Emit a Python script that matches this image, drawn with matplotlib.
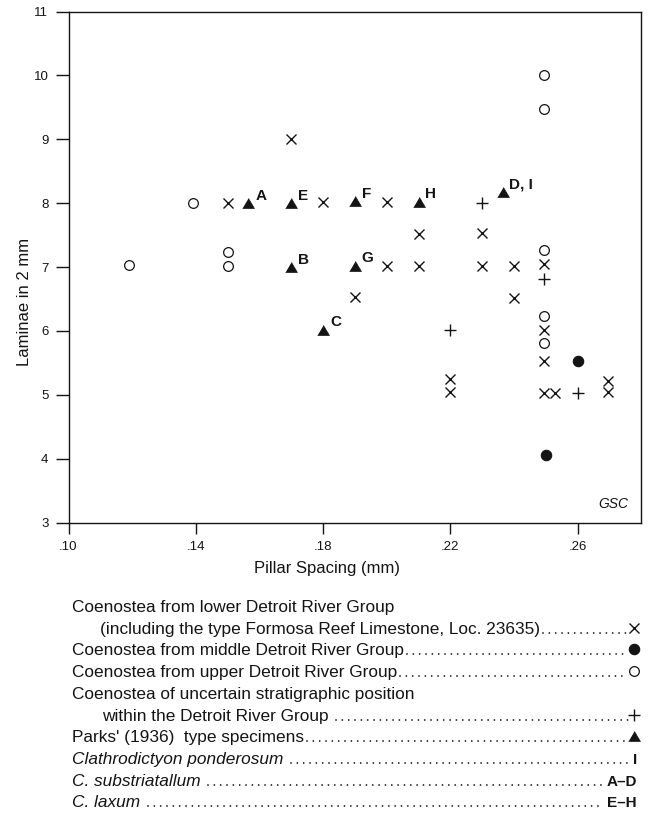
import matplotlib
matplotlib.use("Agg")
import matplotlib.pyplot as plt

plt.rcParams["font.family"] = ["Liberation Sans", "DejaVu Sans"]

# Pillar spacing (mm) against laminae in 2 mm, one list pair per group
lower_x = [0.150, 0.170, 0.180, 0.200, 0.210, 0.230, 0.200, 0.210, 0.230, 0.240,
           0.2495, 0.190, 0.240, 0.2495, 0.2495, 0.220, 0.220, 0.2495, 0.2528,
           0.2695, 0.2695]
lower_y = [8.00, 9.00, 8.02, 8.01, 7.52, 7.53, 7.02, 7.02, 7.02, 7.02,
           7.04, 6.53, 6.52, 6.02, 5.53, 5.24, 5.05, 5.03, 5.03,
           5.22, 5.04]

middle_x = [0.260, 0.250]
middle_y = [5.53, 4.05]

upper_x = [0.119, 0.139, 0.150, 0.150, 0.2495, 0.2495, 0.2495, 0.2495, 0.2495]
upper_y = [7.03, 8.00, 7.24, 7.02, 10.01, 9.48, 7.26, 6.23, 5.81]

uncertain_x = [0.230, 0.2495, 0.220, 0.260]
uncertain_y = [8.00, 6.81, 6.02, 5.03]

# Parks' (1936) type specimens
type_labels = ["A", "B", "C", "D, I", "E", "F", "G", "H"]
type_x = [0.1565, 0.170, 0.180, 0.2364, 0.170, 0.190, 0.190, 0.210]
type_y = [8.00, 7.00, 6.02, 8.17, 8.00, 8.03, 7.02, 8.02]

x_ticks = [0.10, 0.14, 0.18, 0.22, 0.26]
x_tick_labels = [".10", ".14", ".18", ".22", ".26"]
y_ticks = [3, 4, 5, 6, 7, 8, 9, 10, 11]

ink = "#141414"
triangle = [(-1, -0.85), (1, -0.85), (0, 0.85)]
styles = {
    "lower": dict(marker="x", ms=7.5, mew=1.0, color=ink),
    "middle": dict(marker="o", ms=7.5, mew=0.8, color=ink),
    "upper": dict(marker="o", ms=7, mew=0.9, mfc="white", mec=ink),
    "uncertain": dict(marker="+", ms=9, mew=1.0, color=ink),
    "type": dict(marker=triangle, ms=8.5, mew=0.5, color=ink),
}

W, H = 649, 817
fig = plt.figure(figsize=(W / 100, H / 100), dpi=100)


def px_box(left, top, right, bottom):
    return [left / W, 1 - bottom / H, (right - left) / W, (bottom - top) / H]


ax = fig.add_axes(px_box(68.5, 11.5, 641.3, 522.5))
ax.plot(lower_x, lower_y, ls="none", **styles["lower"])
ax.plot(middle_x, middle_y, ls="none", **styles["middle"])
ax.plot(upper_x, upper_y, ls="none", **styles["upper"])
ax.plot(uncertain_x, uncertain_y, ls="none", **styles["uncertain"])
ax.plot(type_x, type_y, ls="none", **styles["type"])

for lab, x, y in zip(type_labels, type_x, type_y):
    ax.annotate(lab, (x, y), xytext=(5, 2.5), textcoords="offset points",
                ha="left", va="baseline", fontsize=11, fontweight="bold", color=ink)

ax.set_xlim(0.10, 0.28)
ax.set_ylim(3, 11)
ax.set_xticks(x_ticks)
ax.set_xticklabels(x_tick_labels)
ax.set_yticks(y_ticks)
ax.tick_params(axis="x", direction="out", length=8, width=1, pad=5,
               labelsize=9.5, colors=ink)
ax.tick_params(axis="y", direction="out", length=9.5, width=1, pad=5,
               labelsize=9.5, colors=ink)
for sp in ax.spines.values():
    sp.set_linewidth(1.0)
    sp.set_color(ink)

ax.set_xlabel("Pillar Spacing (mm)", fontsize=12, color=ink)
ax.xaxis.label.set_va("center")
ax.xaxis.set_label_coords((327.5 - 68.5) / 572.8, -(569 - 522.5) / 511)
ax.set_ylabel("Laminae in 2 mm", fontsize=12, color=ink)
ax.yaxis.label.set_va("center")
ax.yaxis.set_label_coords((25 - 68.5) / 572.8, (522.5 - 302) / 511)

ax.text(1 - 12.7 / 572.8, 14 / 511, "GSC", transform=ax.transAxes,
        ha="right", va="baseline", fontsize=10, style="italic", color=ink)

# key below the plot, laid out in pixel units
key = fig.add_axes([0, 0, 1, 1])
key.set_xlim(0, W)
key.set_ylim(H, 0)
key.axis("off")

rows = [
    ("Coenostea from lower Detroit River Group", 72, "normal", None),
    ("(including the type Formosa Reef Limestone, Loc. 23635)", 100, "normal", "lower"),
    ("Coenostea from middle Detroit River Group", 72, "normal", "middle"),
    ("Coenostea from upper Detroit River Group", 72, "normal", "upper"),
    ("Coenostea of uncertain stratigraphic position", 72, "normal", None),
    ("within the Detroit River Group ", 102, "normal", "uncertain"),
    ("Parks' (1936)  type specimens", 72, "normal", "type"),
    ("Clathrodictyon ponderosum ", 72, "italic", "I"),
    ("C. substriatallum ", 72, "italic", "A\u2013D"),
    ("C. laxum ", 72, "italic", "E\u2013H"),
]

key_x = 634
pending = []
for i, (txt, x0, style, sym) in enumerate(rows):
    base = 612 + 21.7 * i
    t = key.text(x0, base, txt, ha="left", va="baseline", fontsize=12.4,
                 style=style, color=ink)
    if sym is None:
        continue
    if sym in styles:
        key.plot([key_x], [base - 6], ls="none", clip_on=False, **styles[sym])
        pending.append((t, None, base, key_x - 6))
    else:
        s = key.text(637, base, sym, ha="right", va="baseline", fontsize=11,
                     fontweight="bold", color=ink)
        pending.append((t, s, base, None))

fig.canvas.draw()
renderer = fig.canvas.get_renderer()
inv = key.transData.inverted()
for t, s, base, x_end in pending:
    x_start = inv.transform((t.get_window_extent(renderer).x1, 0))[0] + 3
    if s is not None:
        x_end = inv.transform((s.get_window_extent(renderer).x0, 0))[0] - 3
    key.plot([x_start, x_end], [base - 1, base - 1], color=ink, lw=1.3,
             ls=(0, (0.01, 3.5)), dash_capstyle="round", solid_capstyle="round")

fig.savefig("out.png", dpi=100, facecolor="white")
